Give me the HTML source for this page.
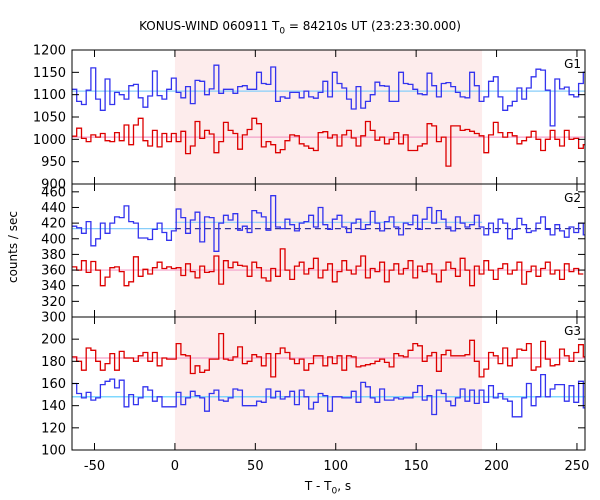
<!DOCTYPE html>
<html><head><meta charset="utf-8"><style>
body{margin:0;background:#fff}
svg{display:block;font-family:"DejaVu Sans","Liberation Sans",sans-serif}
</style></head><body>
<svg id="c" width="600" height="500"></svg>
<script>
const binStart=-64, binWidth=2.944;
const xTicks=[-50,0,50,100,150,200,250];
const shadeRange=[0,191];
const g1Ticks=[900,950,1000,1050,1100,1150,1200];
const g2Ticks=[300,320,340,360,380,400,420,440,460];
const g3Ticks=[100,120,140,160,180,200];
const g1Blue=[1112,1085,1078,1110,1160,1090,1065,1135,1078,1105,1100,1090,1120,1123,1093,1072,1097,1153,1098,1090,1112,1137,
1105,1093,1118,1080,1132,1130,1100,1113,1166,1103,1112,1112,1103,1118,1120,1112,1112,1150,1125,1123,1162,1085,1095,1092,1105,1105,1093,
1108,1095,1092,1105,1130,1095,1150,1125,1115,1090,1068,1118,1070,1085,1100,1128,1120,1119,1085,1085,1150,1125,1123,1112,1102,1100,1148,1120,1095,1125,1127,1118,1105,1095,1093,1150,1120,1085,1095,1130,1140,1095,1065,1075,1085,1115,1090,1115,1140,1157,1155,1110,1030,1135,1113,1117,1100,1095,1125,1150,1090];
const g1Red=[1007,1025,1002,995,1010,1005,1013,997,995,1015,997,1032,988,1032,1047,997,985,1020,983,1013,995,1013,
995,1018,968,985,1040,1002,1020,1012,970,995,1038,1020,1013,978,1010,1022,1047,1035,983,995,988,970,977,997,1010,1008,990,
985,980,975,1015,1017,1003,1010,985,1010,1020,1003,985,1008,1040,1020,998,1005,990,1000,1015,990,1010,975,975,985,990,1035,1030,995,1005,940,1030,1030,1020,1022,1018,1013,1008,970,1010,1038,1015,1005,1015,1008,990,997,1005,1018,1000,975,1000,1020,1000,985,1020,1000,1002,980,988];
const g2Blue=[416,414,407,422,391,400,420,407,420,428,427,442,422,420,401,401,399,412,420,408,398,410,
438,427,407,424,434,396,428,427,384,420,430,424,432,411,416,408,436,433,428,411,455,415,413,425,418,410,420,
422,430,415,440,418,412,425,430,415,408,420,425,412,418,435,420,410,422,428,415,405,420,418,430,412,425,440,420,436,425,415,410,428,420,415,418,430,415,405,420,408,425,420,400,412,426,418,408,410,420,428,412,405,418,410,402,415,408,420,405];
const g2Red=[364,360,372,357,371,360,340,351,363,364,358,340,345,377,352,361,355,363,370,362,364,362,
363,353,368,358,350,365,357,358,378,342,372,363,370,366,365,352,370,363,350,346,362,352,387,360,348,365,370,
355,362,375,350,360,368,345,358,372,360,355,365,378,350,362,358,370,345,360,368,355,362,372,350,365,358,368,355,345,360,370,362,352,375,360,340,365,355,372,360,348,362,368,355,360,370,342,358,365,352,362,370,355,360,348,368,358,362,355];
const g3Red=[184,180,172,192,190,180,172,178,187,172,189,183,183,180,185,188,180,188,176,183,182,182,
196,186,185,169,176,170,172,182,182,205,182,181,184,193,178,180,186,184,176,187,166,187,192,188,182,178,182,
172,178,185,185,176,184,178,185,172,185,184,175,176,177,178,180,182,179,175,187,185,184,190,196,194,180,185,188,171,186,190,185,185,185,186,199,180,166,173,188,185,178,192,176,183,191,190,196,172,175,198,182,176,177,191,185,180,188,195,184];
const g3Blue=[160,151,147,152,145,147,159,162,164,156,163,139,150,141,147,157,154,144,148,139,139,139,
152,141,147,153,149,147,135,151,154,145,144,147,155,154,140,140,140,144,143,155,147,153,146,148,153,141,154,
148,137,143,151,149,135,148,148,147,147,153,143,161,157,147,143,155,145,145,147,146,147,147,152,158,145,149,132,154,151,144,140,147,155,144,154,142,154,143,158,147,151,146,144,130,130,147,160,140,148,168,148,155,159,159,144,158,143,162,138];
const NS="http://www.w3.org/2000/svg";
const svg=document.getElementById('c');
const X0=72,X1=585,D0=-64,D1=255;
function xs(v){return X0+(v-D0)*(X1-X0)/(D1-D0);}
function mk(t,a,p){const e=document.createElementNS(NS,t);for(const k in a)e.setAttribute(k,a[k]);(p||svg).appendChild(e);return e;}
const panels=[
 {top:50,bot:184,lo:900,hi:1200,ticks:g1Ticks,label:'G1',s:[[g1Blue,'#3333ee'],[g1Red,'#dd0000']],refs:[[1108,D0,D1,'#87cefa',''],[1005,D0,D1,'#f4a0c8','']]},
 {top:184,bot:317,lo:300,hi:470,ticks:g2Ticks,label:'G2',s:[[g2Blue,'#3333ee'],[g2Red,'#dd0000']],refs:[[413,D0,0,'#87cefa',''],[421,0,191,'#87cefa',''],[413,0,D1,'#333399','6,4'],[360,D0,D1,'#f4a0c8','']]},
 {top:317,bot:450,lo:100,hi:220,ticks:g3Ticks,label:'G3',s:[[g3Red,'#dd0000'],[g3Blue,'#3333ee']],refs:[[183,D0,D1,'#f4a0c8',''],[148,D0,D1,'#55ccff','']]}
];
panels.forEach((p,pi)=>{
 const ys=v=>p.bot-(v-p.lo)*(p.bot-p.top)/(p.hi-p.lo);
 const g=mk('g',{});
 
 
 const sh=mk('rect',{x:xs(shadeRange[0]),y:p.top,width:xs(shadeRange[1])-xs(shadeRange[0]),height:p.bot-p.top,fill:'#fdecec'},g);
 
 
 p.refs.forEach(r=>{
  const l=mk('line',{x1:xs(r[1]),x2:xs(r[2]),y1:ys(r[0]),y2:ys(r[0]),stroke:r[3],'stroke-width':1.2,'stroke-dasharray':r[4]},g);
  
  
 });
 p.s.forEach((s,si)=>{
  let d='';
  s[0].forEach((v,i)=>{
   let a=binStart+i*binWidth,b=Math.min(a+binWidth,D1);
   if(a>=D1)return;
   d+=(i?'L':'M')+xs(a).toFixed(1)+','+ys(v).toFixed(1)+'L'+xs(b).toFixed(1)+','+ys(v).toFixed(1);
  });
  const pa=mk('path',{d:d,fill:'none',stroke:s[1],'stroke-width':1.3},g);
  
  
 });
 p.ticks.forEach(t=>{
  const y=ys(t);
  mk('line',{x1:X0,x2:X0+7,y1:y,y2:y,stroke:'#000'},g);
  mk('line',{x1:X1-7,x2:X1,y1:y,y2:y,stroke:'#000'},g);
  const tx=mk('text',{x:66,y:y+4.5,'text-anchor':'end','font-size':13,fill:'#000'},g);
  tx.textContent=t;
  
  
 });
 xTicks.forEach(t=>{
  mk('line',{x1:xs(t),x2:xs(t),y1:p.top,y2:p.top+7,stroke:'#000'},g);
  mk('line',{x1:xs(t),x2:xs(t),y1:p.bot-7,y2:p.bot,stroke:'#000'},g);
 });
 mk('rect',{x:X0,y:p.top,width:X1-X0,height:p.bot-p.top,fill:'none',stroke:'#000','stroke-width':1},g);
 const lb=mk('text',{x:X1-4,y:p.top+18,'text-anchor':'end','font-size':12,fill:'#000'},g);
 lb.textContent=p.label;
 
 
});
xTicks.forEach(t=>{
 const tx=mk('text',{x:xs(t),y:470,'text-anchor':'middle','font-size':13,fill:'#000'});
 tx.textContent=t;
 
 
});
</script>
<div style="position:absolute;left:0;top:0;width:600px;height:500px;pointer-events:none;font-family:'DejaVu Sans','Liberation Sans',sans-serif;">
 <div style="position:absolute;top:19px;left:0;width:600px;text-align:center;font-size:12px;">KONUS-WIND 060911 T<sub style="font-size:9px">0</sub> = 84210s UT (23:23:30.000)</div>
 <div style="position:absolute;top:479px;left:0;width:656px;text-align:center;font-size:12px;">T - T<sub style="font-size:9px">0</sub>, s</div>
 <div style="position:absolute;left:-32px;top:240px;width:90px;text-align:center;font-size:12px;transform:rotate(-90deg);">counts / sec</div>
</div>
</body></html>
